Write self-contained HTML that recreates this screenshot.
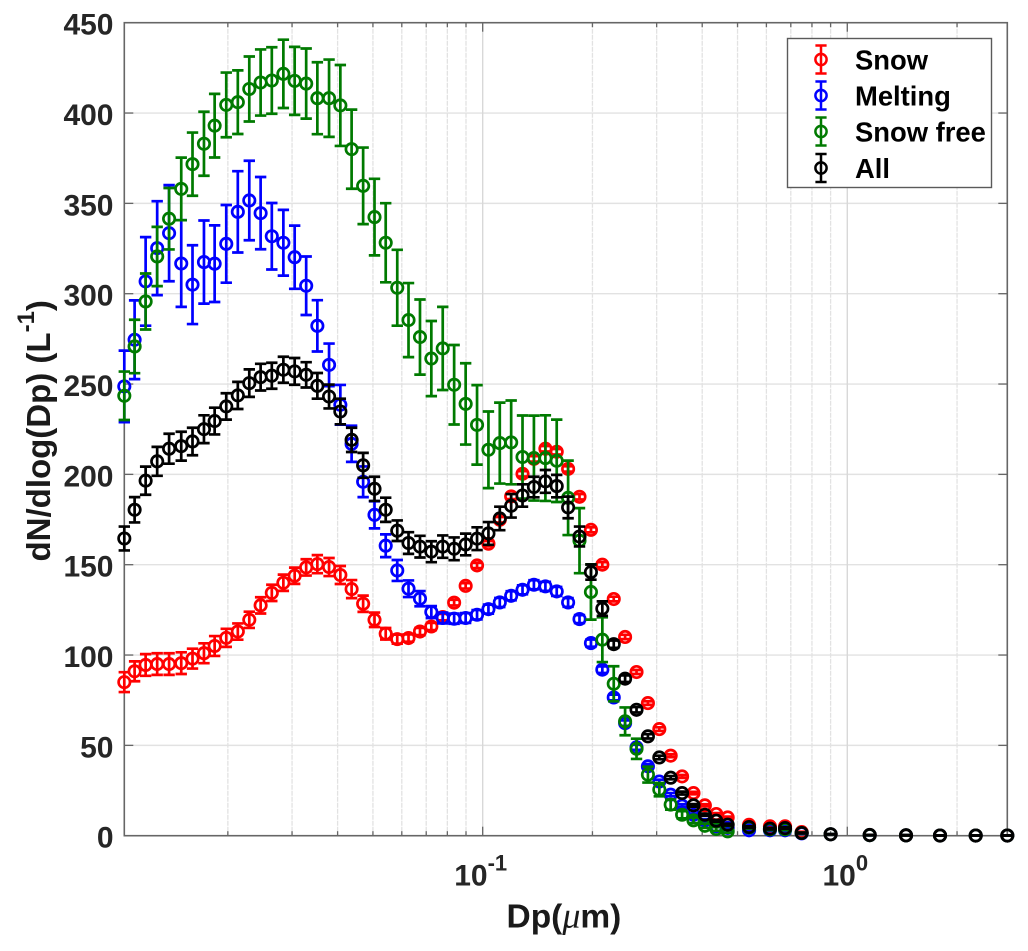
<!DOCTYPE html>
<html lang="en">
<head>
<meta charset="utf-8">
<title>dN/dlog(Dp) size distribution</title>
<style>
  html, body { margin: 0; padding: 0; background: #fff; }
  #chart { display: block; width: 1028px; height: 951px; font-family: "Liberation Sans", sans-serif; filter: blur(0.35px); }
  text { font-family: "Liberation Sans", sans-serif; font-weight: bold; }
</style>
</head>
<body>
<svg id="chart" xmlns="http://www.w3.org/2000/svg" width="1028" height="951" viewBox="0 0 1028 951">
  <rect x="0" y="0" width="1028" height="951" fill="#ffffff"></rect>
  <g id="grid"></g>
  <g id="series"></g>
  <g id="axes"></g>
  <text transform="translate(50,561.5) rotate(-90)" font-size="33" fill="#1a1a1a">dN/dlog(Dp) (L<tspan font-size="24" dy="-16">-1</tspan><tspan dy="16">)</tspan></text>
  <text x="506.5" y="927.5" font-size="33.5" fill="#1a1a1a">Dp(<tspan font-family="'Liberation Serif', serif" font-style="italic" font-weight="normal" font-size="36">μ</tspan>m)</text>
  <g id="legend"></g>
</svg>
<script>
const diameters = [
  0.0104,0.0111,0.0119,0.0128,0.0138,0.0149,0.0160,0.0172,0.0184,0.0198,
  0.0213,0.0229,0.0246,0.0264,0.0284,0.0305,0.0328,0.0352,0.0379,0.0407,
  0.0437,0.0470,0.0505,0.0542,0.0583,0.0626,0.0673,0.0723,0.0777,0.0835,
  0.0898,0.0965,0.1037,0.1114,0.1197,0.1286,0.1382,0.1486,0.1596,0.1715,
  0.1843,0.1981,0.2129,0.2288,0.2458,0.2642,0.2839,0.3051,0.3278,0.3523,
  0.3786,0.4068,0.4371,0.4698,
  0.5377,0.6136,0.675,0.7497,0.9,1.152,1.449,1.796,2.25,2.747
];
const snowValues = [
  85,91,94.5,95,95,95.5,98,101,105,109.5,
  113,119.5,127.5,134.4,140,143.9,148.5,150.3,148.7,144.3,
  136.5,128.4,119.5,111.8,108.8,109.4,113,115.8,121,129,
  138.3,149.6,161.6,174.9,187.8,200.3,208.6,214.2,212.5,203,
  187.6,169.3,150,131,110,90.6,73.4,59,44.3,32.8,
  23.6,16.8,12,10.1,
  6,5.2,5.2,2,0.8,0.3,0.2,0.1,0.1,0.1
];
const snowErrors = [
  5.5,5.5,6,6,6,6,5.5,5.5,5.5,5,
  4.5,4.5,4.5,4.5,4.5,4.5,4.5,5,5,5,
  5,4.5,4,3.2,2.5,2,2,2,1.8,1.6,
  1.5,1.5,1.5,1.5,1.5,1.5,1.5,1.5,1.5,1.5,
  1.5,1.4,1.4,1.3,1.2,1.1,1,1,0.8,0.8,
  0.7,0.6,0.5,0.5,
  0.4,0.4,0.4,0.2,0.1,0.1,0.1,0.1,0.1,0.1
];
const meltingValues = [
  248.7,274.5,306.8,325.2,333.5,316.7,305,317.5,316.6,327.6,
  345.3,351.6,344.6,331.8,328.2,320.2,304.4,282.2,260.6,238.5,
  216.9,195.9,177.6,160.5,146.8,136.7,131.2,123.8,120.5,120.1,
  120.5,122.3,125.4,129.1,132.8,136.1,138.9,138,135.2,129.1,
  119.9,106.6,91.9,76.5,62.3,48.9,38.4,30,22.7,16.6,
  11.6,8.5,5.2,4.3,
  3,3,3,1.3,0.8,0.3,0.2,0.1,0.1,0.1
];
const meltingErrors = [
  19.8,21.8,24.5,26,26.6,24,21.8,23,21.2,21.5,
  22.5,22,20,18.4,18.2,17.5,16.2,14.2,11.8,11,
  10,8.5,7.5,6.3,5.8,4.6,4.2,3.3,3,2.8,
  2.7,2.6,2.5,2.5,2.5,2.5,2.5,2.5,2.5,2.4,
  2.2,2,1.8,1.6,1.5,1.4,1.2,1,0.9,0.8,
  0.7,0.6,0.5,0.5,
  0.4,0.4,0.4,0.2,0.1,0.1,0.1,0.1,0.1,0.1
];
const snowFreeValues = [
  243.5,270.8,295.7,320.6,341.5,358,371.7,383,393,404.5,
  406,413.3,416.9,418,421.7,417.8,416.3,408.2,408.2,404.2,
  380,359.7,342.4,328.2,303.3,285.4,276,264.1,269.7,249.6,
  239,227.4,213.6,217.3,217.7,209.6,209,209,207.5,187,
  163.3,134.9,108.5,84.1,63.3,48.1,33.8,25.5,17.2,11.6,
  8.5,5.5,3.7,2.4,
  4.5,3.5,3.5,1.5,0.8,0.3,0.2,0.1,0.1,0.1
];
const snowFreeErrors = [
  13.4,14.8,15.5,16.4,17,17.3,17.5,17.7,17.6,17.9,
  17.6,18,18.3,18.4,18.9,18.8,19.4,19.9,21.4,22.4,
  21.9,21.2,21.2,21.9,21,20.5,20.8,20.8,23,22,
  22.5,22,21.2,22.4,23.2,23,23.5,23.7,22.8,20.6,
  18,15.3,12.4,9.7,7.7,5.6,4.4,3.7,2.8,2,
  1.5,1.2,1,0.8,
  0.5,0.4,0.4,0.2,0.1,0.1,0.1,0.1,0.1,0.1
];
const allValues = [
  164.5,180.4,196.5,207.2,214.2,215.6,218.2,225,229.5,237.6,
  243.7,250.5,253.8,254.6,257.9,257,255.1,249,243.1,234.8,
  219.1,205,192,180.4,168.8,162,160,157.2,160,158.8,
  161.2,164.4,167.3,175.6,182.6,188.3,193,196.1,193.5,181.7,
  165.6,145.9,125.7,106,86.9,69.7,55,43.3,32.1,23.6,
  16.8,11.6,8.3,6.1,
  4.8,3.9,4.2,1.5,0.8,0.4,0.2,0.1,0.1,0.1
];
const allErrors = [
  6.6,7,7.8,8,8.3,8,7.6,7.7,7.4,7.3,
  7.5,7.6,7.4,7.2,7.2,7.4,7,7.1,6.6,7.1,
  6.7,6.9,6.7,6.7,5.7,6,6,5.8,6.2,6.3,
  6,6.3,6.3,6.5,6.5,6.2,5.7,6.3,6.2,6,
  5.5,4.2,4,2,1.8,1.5,1.2,1,0.9,0.8,
  0.7,0.6,0.5,0.5,
  0.4,0.4,0.4,0.2,0.1,0.1,0.1,0.1,0.1,0.1
];
const seriesNames = ["Snow", "Melting", "Snow free", "All"];
const yTickValues = [0,50,100,150,200,250,300,350,400,450];
const xMajorTicks = [0.1, 1];
const xMinorTicks = [0.02,0.03,0.04,0.05,0.06,0.07,0.08,0.09,0.2,0.3,0.4,0.5,0.6,0.7,0.8,0.9,2];
const xDomain = [0.0104, 2.747];
const yDomain = [0, 450];

const plotLeft = 124.3, plotRight = 1007.3, plotTop = 22.7, plotBottom = 835.7;
const NS = "http://www.w3.org/2000/svg";
function xScale(d) {
  const a = Math.log10(xDomain[0]), b = Math.log10(xDomain[1]);
  return plotLeft + (Math.log10(d) - a) / (b - a) * (plotRight - plotLeft);
}
function yScale(v) {
  return plotBottom - (v - yDomain[0]) / (yDomain[1] - yDomain[0]) * (plotBottom - plotTop);
}
function line(parent, x1, y1, x2, y2, stroke, width, dash) {
  const el = document.createElementNS(NS, "line");
  el.setAttribute("x1", x1);
  el.setAttribute("y1", y1);
  el.setAttribute("x2", x2);
  el.setAttribute("y2", y2);
  el.setAttribute("stroke", stroke);
  el.setAttribute("stroke-width", width);
  if (dash) el.setAttribute("stroke-dasharray", dash);
  parent.appendChild(el);
  return el;
}
const gridLayer = document.getElementById("grid");
const axesLayer = document.getElementById("axes");
const seriesLayer = document.getElementById("series");
const legendLayer = document.getElementById("legend");

/* grid */
yTickValues.slice(1, -1).forEach(function (v) {
  const g = line(gridLayer, plotLeft, yScale(v), plotRight, yScale(v), "#e2e2e2", 1.4);
  
  
});
xMinorTicks.forEach(function (d) {
  const g = line(gridLayer, xScale(d), plotTop, xScale(d), plotBottom, "#e2e2e2", 1.3, "5 1");
  
  
});
xMajorTicks.forEach(function (d) {
  const g = line(gridLayer, xScale(d), plotTop, xScale(d), plotBottom, "#d8d8d8", 1.4);
  
  
});

/* series */
function drawSeries(values, errors, color, key) {
  const g = document.createElementNS(NS, "g");
  
  
  g.setAttribute("fill", "none");
  g.setAttribute("stroke", color);
  values.forEach(function (v, i) {
    const x = xScale(diameters[i]);
    const e = errors[i];
    const bar = document.createElementNS(NS, "path");
    
    
    const t = yScale(v + e), b = yScale(Math.max(v - e, 0));
    bar.setAttribute("d", "M" + x + " " + t + "V" + b + "M" + (x - 5.7) + " " + t + "H" + (x + 5.7) + "M" + (x - 5.7) + " " + b + "H" + (x + 5.7));
    bar.setAttribute("stroke-width", "2.7");
    g.appendChild(bar);
    const c = document.createElementNS(NS, "circle");
    
    
    c.setAttribute("cx", x);
    c.setAttribute("cy", yScale(v));
    c.setAttribute("r", "5.7");
    c.setAttribute("stroke-width", "2.7");
    g.appendChild(c);
  });
  seriesLayer.appendChild(g);
}
const seriesColors = ["#ff0000", "#0000ff", "#007a00", "#000000"];
drawSeries(snowValues, snowErrors, seriesColors[0], "snow");
drawSeries(meltingValues, meltingErrors, seriesColors[1], "melting");
drawSeries(snowFreeValues, snowFreeErrors, seriesColors[2], "snow-free");
drawSeries(allValues, allErrors, seriesColors[3], "all");

/* axes */
const axisColor = "#666666";
const box = document.createElementNS(NS, "rect");


box.setAttribute("x", plotLeft);
box.setAttribute("y", plotTop);
box.setAttribute("width", plotRight - plotLeft);
box.setAttribute("height", plotBottom - plotTop);
box.setAttribute("fill", "none");
box.setAttribute("stroke", axisColor);
box.setAttribute("stroke-width", "1.6");
axesLayer.appendChild(box);

yTickValues.forEach(function (v) {
  const y = yScale(v);
  const tl = line(axesLayer, plotLeft, y, plotLeft + 9, y, axisColor, 1.3);
  
  
  const tr = line(axesLayer, plotRight - 9, y, plotRight, y, axisColor, 1.3);
  
  
  const t = document.createElementNS(NS, "text");
  
  
  t.setAttribute("x", 113.5);
  t.setAttribute("y", y + 12);
  t.setAttribute("text-anchor", "end");
  t.setAttribute("font-size", "30");
  t.setAttribute("fill", "#262626");
  t.textContent = String(v);
  axesLayer.appendChild(t);
});
xMinorTicks.forEach(function (d) {
  const x = xScale(d);
  const a = line(axesLayer, x, plotBottom, x, plotBottom - 4.5, axisColor, 1.3);
  
  
  const b = line(axesLayer, x, plotTop, x, plotTop + 4.5, axisColor, 1.3);
  
  
});
xMajorTicks.forEach(function (d) {
  const x = xScale(d);
  const a = line(axesLayer, x, plotBottom, x, plotBottom - 9, axisColor, 1.3);
  
  
  const b = line(axesLayer, x, plotTop, x, plotTop + 9, axisColor, 1.3);
  
  
  const t = document.createElementNS(NS, "text");
  
  
  t.setAttribute("x", x - 2);
  t.setAttribute("y", 885.5);
  t.setAttribute("text-anchor", "middle");
  t.setAttribute("font-size", "30");
  t.setAttribute("fill", "#262626");
  const base = document.createElementNS(NS, "tspan");
  base.textContent = "10";
  t.appendChild(base);
  const exp = document.createElementNS(NS, "tspan");
  exp.setAttribute("font-size", "22");
  exp.setAttribute("dy", "-15");
  exp.textContent = String(Math.round(Math.log10(d)));
  t.appendChild(exp);
  axesLayer.appendChild(t);
});

/* plot points re-stacked above frame so markers overlap the axis line */
axesLayer.parentNode.insertBefore(seriesLayer, axesLayer.nextSibling);

/* legend */
const legendBox = document.createElementNS(NS, "rect");


legendBox.setAttribute("x", 787.5);
legendBox.setAttribute("y", 38.5);
legendBox.setAttribute("width", 204);
legendBox.setAttribute("height", 149);
legendBox.setAttribute("fill", "#ffffff");
legendBox.setAttribute("stroke", "#5a5a5a");
legendBox.setAttribute("stroke-width", "1.4");
legendLayer.appendChild(legendBox);
const legendRows = [59.5, 95.5, 131.5, 168];
seriesNames.forEach(function (name, i) {
  const y = legendRows[i];
  const x = 821;
  const g = document.createElementNS(NS, "g");
  
  
  g.setAttribute("fill", "none");
  g.setAttribute("stroke", seriesColors[i]);
  g.setAttribute("stroke-width", "2.5");
  const p = document.createElementNS(NS, "path");
  p.setAttribute("d", "M" + x + " " + (y - 14) + "V" + (y + 14) + "M" + (x - 5.6) + " " + (y - 14) + "H" + (x + 5.6) + "M" + (x - 5.6) + " " + (y + 14) + "H" + (x + 5.6));
  g.appendChild(p);
  const c = document.createElementNS(NS, "circle");
  c.setAttribute("cx", x);
  c.setAttribute("cy", y);
  c.setAttribute("r", "5.6");
  g.appendChild(c);
  const t = document.createElementNS(NS, "text");
  
  
  t.setAttribute("x", 855);
  t.setAttribute("y", y + 10);
  t.setAttribute("font-size", "27.4");
  t.setAttribute("fill", "#000000");
  t.setAttribute("stroke", "none");
  t.textContent = name;
  g.appendChild(t);
  legendLayer.appendChild(g);
});
</script>
</body>
</html>
